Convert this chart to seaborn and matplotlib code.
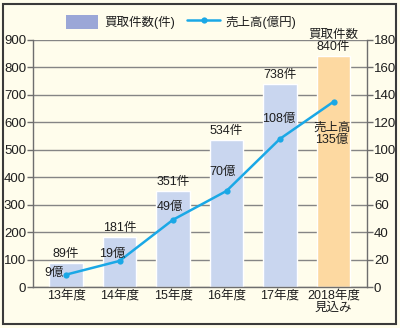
import matplotlib
matplotlib.use("Agg")
import matplotlib.pyplot as plt
import seaborn as sns
import pandas as pd
from matplotlib.patches import Rectangle, Patch
from matplotlib.lines import Line2D

# ---- data ----
categories = ["13年度", "14年度", "15年度", "16年度", "17年度", "2018年度\n見込み"]
purchases = [89, 181, 351, 534, 738, 840]          # 買取件数(件)
sales = [9, 19, 49, 70, 108, 135]                  # 売上高(億円)
bar_labels = ["89件", "181件", "351件", "534件", "738件", "買取件数\n840件"]
line_labels = ["9億", "19億", "49億", "70億", "108億", "売上高\n135億"]
legend_bar = "買取件数(件)"
legend_line = "売上高(億円)"

# ---- style ----
sns.set_theme(style="white")
plt.rcParams["font.family"] = ["Liberation Sans", "Noto Sans CJK JP", "DejaVu Sans"]

bg = "#FFFDEC"
bar_blue = "#C9D6EF"
bar_orange = "#FDD9A1"
legend_blue = "#9BA7D7"
line_col = "#1AA8E6"
grid_col = "#858585"
spine_col = "#6E6E6E"
txt_col = "#1E1E1E"

fig = plt.figure(figsize=(4.0, 3.28), dpi=100, facecolor=bg)
ax = fig.add_axes([33 / 400, 1 - 287 / 328, 334 / 400, 247 / 328])
ax.set_facecolor(bg)

df = pd.DataFrame({"cat": categories, "n": purchases, "s": sales})
colors = [bar_blue] * (len(categories) - 1) + [bar_orange]
sns.barplot(data=df, x="cat", y="n", hue="cat", palette=colors, legend=False,
            width=0.635, ax=ax, saturation=1, zorder=2)

ax.set_xlim(-0.617, 5.626)
ax.set_ylim(0, 900)
ax.set_yticks(range(0, 901, 100))
ax.set_axisbelow(True)
ax.yaxis.grid(True, color=grid_col, lw=1.0, zorder=0)
ax.xaxis.grid(False)
ax.set_xlabel("")
ax.set_ylabel("")
for s in ["top", "right"]:
    ax.spines[s].set_visible(False)
for s in ["left", "bottom"]:
    ax.spines[s].set_color(spine_col)
    ax.spines[s].set_linewidth(1.0)
ax.tick_params(axis="y", length=4, width=1, color=spine_col, labelsize=9.5,
               pad=1, labelcolor=txt_col, left=True)
ax.tick_params(axis="x", length=0, labelsize=9, pad=2, labelcolor=txt_col)
for lbl in ax.get_xticklabels():
    lbl.set_linespacing(1.0)

# bar labels
for i, (v, t) in enumerate(zip(purchases, bar_labels)):
    ax.annotate(t, (i, v), xytext=(0, 3), textcoords="offset pixels",
                ha="center", va="bottom", fontsize=9, color=txt_col,
                linespacing=1.1, zorder=5)

# line on secondary axis
ax2 = ax.twinx()
sns.lineplot(x=list(range(len(sales))), y=sales, ax=ax2, color=line_col,
             lw=1.8, marker="o", markersize=4.5, markeredgewidth=0, zorder=4)
ax2.set_ylim(0, 180)
ax2.set_yticks(range(0, 181, 20))
ax2.set_xlim(-0.617, 5.626)
for s in ["top", "left", "bottom"]:
    ax2.spines[s].set_visible(False)
ax2.spines["right"].set_color(spine_col)
ax2.spines["right"].set_linewidth(1.0)
ax2.tick_params(axis="y", length=4, width=1, color=spine_col, labelsize=9.5,
                pad=1, labelcolor=txt_col, right=True)
ax2.grid(False)

offsets = [(-12, 2), (-7, 7), (-3.5, 13), (-4, 19), (-1.5, 20), (-1.5, -32)]
for i, (v, t) in enumerate(zip(sales, line_labels)):
    ax2.annotate(t, (i, v), xytext=offsets[i], textcoords="offset pixels",
                 ha="center", va="center", fontsize=9, color=txt_col,
                 linespacing=1.1, zorder=5)

# legend
handles = [Patch(facecolor=legend_blue, edgecolor="none"),
           Line2D([], [], color=line_col, lw=1.8, marker="o", markersize=4.5,
                  markeredgewidth=0)]
fig.legend(handles, [legend_bar, legend_line], loc="center",
           bbox_to_anchor=(181 / 400, 1 - 22 / 328), ncol=2, frameon=False,
           fontsize=9, handlelength=2.6, handleheight=1.4, columnspacing=1.0,
           handletextpad=0.45, labelcolor=txt_col)

# outer frame
fig.patches.append(Rectangle((3 / 400, 4 / 328), 393 / 400, 320 / 328,
                             transform=fig.transFigure, fill=False,
                             edgecolor="#3A3A3A", lw=1.5))

fig.savefig("out.png", dpi=100, facecolor=bg)
